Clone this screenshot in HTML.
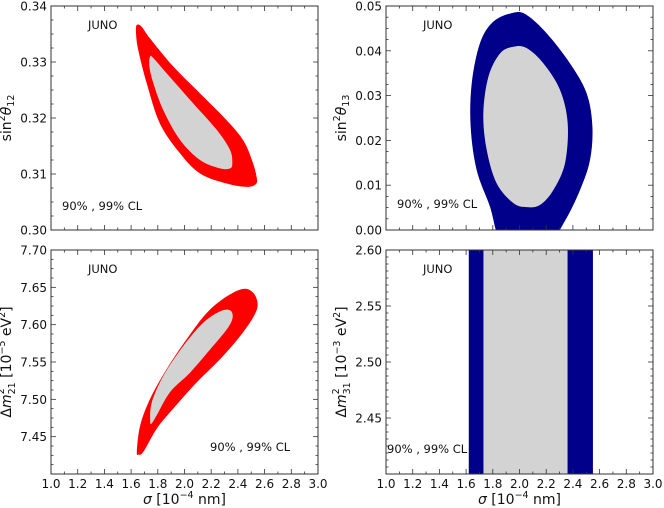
<!DOCTYPE html>
<html><head><meta charset="utf-8"><style>
html,body{margin:0;padding:0;background:#fff;width:664px;height:508px;overflow:hidden}
svg{display:block;font-family:"DejaVu Sans","Liberation Sans",sans-serif}
</style></head><body>
<svg id="fig" width="664" height="508" viewBox="0 0 664 508"></svg>
<script>
// ---- data ----
const xTicks = [1.0,1.2,1.4,1.6,1.8,2.0,2.2,2.4,2.6,2.8,3.0];
const xTickLabels = ["1.0","1.2","1.4","1.6","1.8","2.0","2.2","2.4","2.6","2.8","3.0"];
const t12Ticks = [0.30,0.31,0.32,0.33,0.34];
const t12Labels = ["0.30","0.31","0.32","0.33","0.34"];
const t13Ticks = [0.00,0.01,0.02,0.03,0.04,0.05];
const t13Labels = ["0.00","0.01","0.02","0.03","0.04","0.05"];
const m21Ticks = [7.45,7.50,7.55,7.60,7.65,7.70];
const m21Labels = ["7.45","7.50","7.55","7.60","7.65","7.70"];
const m31Ticks = [2.45,2.50,2.55,2.60];
const m31Labels = ["2.45","2.50","2.55","2.60"];

const t12Outer = [[1.642,0.3366],[1.679,0.3363],[1.742,0.3342],[1.916,0.3292],[2.116,0.3244],[2.316,0.3196],[2.440,0.3160],[2.505,0.3125],[2.540,0.3095],[2.535,0.3082],[2.466,0.3077],[2.316,0.3083],[2.116,0.3101],[1.966,0.3137],[1.816,0.3190],[1.717,0.3262],[1.654,0.3321],[1.637,0.3351]];
const t12Inner = [[1.742,0.3310],[1.767,0.3307],[1.866,0.3280],[2.066,0.3226],[2.241,0.3179],[2.341,0.3143],[2.358,0.3119],[2.341,0.3110],[2.266,0.3110],[2.116,0.3125],[1.966,0.3161],[1.841,0.3214],[1.767,0.3262],[1.737,0.3292]];
const t13Outer = [[1.954,0.0485],[2.054,0.0480],[2.204,0.0439],[2.378,0.0372],[2.503,0.0305],[2.546,0.0231],[2.528,0.0156],[2.453,0.0089],[2.340,0.0020],[2.200,-0.0040],[2.000,-0.0060],[1.850,-0.0020],[1.779,0.0052],[1.679,0.0134],[1.634,0.0231],[1.642,0.0327],[1.704,0.0417],[1.804,0.0465]];
const t13Inner = [[1.954,0.0409],[2.054,0.0406],[2.179,0.0372],[2.303,0.0313],[2.361,0.0238],[2.341,0.0149],[2.253,0.0089],[2.154,0.0056],[2.054,0.0051],[1.954,0.0060],[1.829,0.0104],[1.754,0.0179],[1.729,0.0260],[1.767,0.0342],[1.854,0.0394]];
const m21Outer = [[1.643,7.430],[1.668,7.465],[1.743,7.501],[1.868,7.541],[2.018,7.581],[2.168,7.616],[2.318,7.638],[2.443,7.648],[2.518,7.642],[2.548,7.627],[2.518,7.611],[2.418,7.585],[2.268,7.554],[2.093,7.523],[1.918,7.488],[1.793,7.461],[1.693,7.430],[1.655,7.426]];
const m21Inner = [[1.743,7.470],[1.755,7.496],[1.843,7.532],[1.993,7.572],[2.143,7.603],[2.268,7.618],[2.343,7.619],[2.360,7.609],[2.318,7.594],[2.193,7.567],[2.043,7.536],[1.893,7.510],[1.793,7.479],[1.755,7.468]];
const m31OuterBand = [1.62,2.55];
const m31InnerBand = [1.73,2.36];

// ---- drawing ----
const NS="http://www.w3.org/2000/svg";
const svg=document.getElementById('fig');
function mk(tag,attrs,parent){const e=document.createElementNS(NS,tag);for(const k in attrs)e.setAttribute(k,attrs[k]);(parent||svg).appendChild(e);return e;}
function smooth(pts){
  const n=pts.length;let d=`M${pts[0][0]},${pts[0][1]}`;
  for(let i=0;i<n;i++){
    const p0=pts[(i-1+n)%n],p1=pts[i],p2=pts[(i+1)%n],p3=pts[(i+2)%n];
    const c1=[p1[0]+(p2[0]-p0[0])/6,p1[1]+(p2[1]-p0[1])/6];
    const c2=[p2[0]-(p3[0]-p1[0])/6,p2[1]-(p3[1]-p1[1])/6];
    d+=`C${c1[0]},${c1[1]} ${c2[0]},${c2[1]} ${p2[0]},${p2[1]}`;
  }
  return d+'Z';
}
function panel(name,L,T,W,H,ymin,ymax,yt,yl,minorStep,fillOuter,fillInner,outer,inner,band,juno,cl,yTitleHTML,showX){
  const g=mk('g',{});
  
  
  const sx=v=>L+(v-1)/2*W, sy=v=>T+H-(v-ymin)/(ymax-ymin)*H;
  const cp='clip-'+name;
  const c=mk('clipPath',{id:cp},g);mk('rect',{x:L,y:T,width:W,height:H},c);
  const dg=mk('g',{'clip-path':`url(#${cp})`},g);
  if(band){
    const r1=mk('rect',{x:sx(band[0][0]),y:T,width:sx(band[0][1])-sx(band[0][0]),height:H,fill:fillOuter},dg);
    
    
    const r2=mk('rect',{x:sx(band[1][0]),y:T,width:sx(band[1][1])-sx(band[1][0]),height:H,fill:fillInner},dg);
    
    
  } else {
    const p1=mk('path',{d:smooth(outer.map(p=>[sx(p[0]),sy(p[1])])),fill:fillOuter},dg);
    
    
    const p2=mk('path',{d:smooth(inner.map(p=>[sx(p[0]),sy(p[1])])),fill:fillInner},dg);
    
    
  }
  const fr=mk('rect',{x:L,y:T,width:W,height:H,fill:'none',stroke:'#333','stroke-width':1},g);
  
  
  for(let v=1.0;v<=3.0001;v+=0.1){
    const x=sx(v),maj=Math.abs(v*5-Math.round(v*5))<1e-6,len=maj?5:2.5;
    mk('line',{x1:x,x2:x,y1:T+H,y2:T+H-len,stroke:'#333','stroke-width':0.8},g);
    mk('line',{x1:x,x2:x,y1:T,y2:T+len,stroke:'#333','stroke-width':0.8},g);
  }
  if(showX){
    xTicks.forEach((v,i)=>{const t=mk('text',{x:sx(v),y:T+H+14,'font-size':12,'text-anchor':'middle',fill:'#111'},g);t.textContent=xTickLabels[i];
      
      });
    const xt=mk('text',{x:L+W/2,y:T+H+30,'font-size':14,'text-anchor':'middle',fill:'#111'},g);
    
    
    xt.innerHTML='<tspan font-style="italic">σ</tspan> [10<tspan font-size="9.5" dy="-6">−4</tspan><tspan dy="6"> nm]</tspan>';
  }
  for(let v=ymin;v<=ymax+1e-9;v+=minorStep){
    const y=sy(v);
    const maj=yt.some(t=>Math.abs(t-v)<minorStep/10)||Math.abs(v-ymin)<1e-9, len=maj?5:2.5;
    mk('line',{x1:L,x2:L+len,y1:y,y2:y,stroke:'#333','stroke-width':0.8},g);
    mk('line',{x1:L+W,x2:L+W-len,y1:y,y2:y,stroke:'#333','stroke-width':0.8},g);
  }
  yt.forEach((v,i)=>{const t=mk('text',{x:L-4,y:sy(v)+4.5,'font-size':12,'text-anchor':'end',fill:'#111'},g);t.textContent=yl[i];
    
    });
  const yt2=mk('text',{x:0,y:0,'font-size':14,'text-anchor':'middle',fill:'#111',transform:`translate(${L-40},${T+H/2}) rotate(-90)`},g);
  
  
  yt2.innerHTML=yTitleHTML;
  const j=mk('text',{x:juno[0],y:juno[1],'font-size':11.5,fill:'#111'},g);j.textContent='JUNO';
  
  
  const cl2=mk('text',{x:cl[0],y:cl[1],'font-size':11.5,fill:'#111'},g);cl2.textContent='90% , 99% CL';
  
  
}
const RED='#ff0000',BLUE='#00008b',GRAY='#d3d3d3';
const dmTitle=(s,e)=>'Δ<tspan font-style="italic">m</tspan><tspan font-size="9.5" dy="4">'+s+'</tspan><tspan font-size="9.5" dx="-12" dy="-11">2</tspan><tspan dx="6" dy="7"> [10</tspan><tspan font-size="9.5" dy="-6">'+e+'</tspan><tspan dy="6"> eV</tspan><tspan font-size="9.5" dy="-6">2</tspan><tspan dy="6">]</tspan>';
panel('panel-theta12',51,6,267,224,0.30,0.34,t12Ticks,t12Labels,0.0025,RED,GRAY,t12Outer,t12Inner,null,[88,29],[62,210],
 'sin<tspan font-size="9.5" dy="-6">2</tspan><tspan dy="6" font-style="italic">θ</tspan><tspan font-size="9.5" dy="3">12</tspan>',false);
panel('panel-theta13',386,6,267,224,0.00,0.05,t13Ticks,t13Labels,0.0025,BLUE,GRAY,t13Outer,t13Inner,null,[423,29],[397,208],
 'sin<tspan font-size="9.5" dy="-6">2</tspan><tspan dy="6" font-style="italic">θ</tspan><tspan font-size="9.5" dy="3">13</tspan>',false);
panel('panel-dm21',51,250,267,224,7.40,7.70,m21Ticks,m21Labels,0.0125,RED,GRAY,m21Outer,m21Inner,null,[88,273],[210,451],dmTitle('21','−5'),true);
panel('panel-dm31',386,250,267,224,2.40,2.60,m31Ticks,m31Labels,0.00625,BLUE,GRAY,null,null,[m31OuterBand,m31InnerBand],[423,273],[387,453],dmTitle('31','−3'),true);
</script>
</body></html>
